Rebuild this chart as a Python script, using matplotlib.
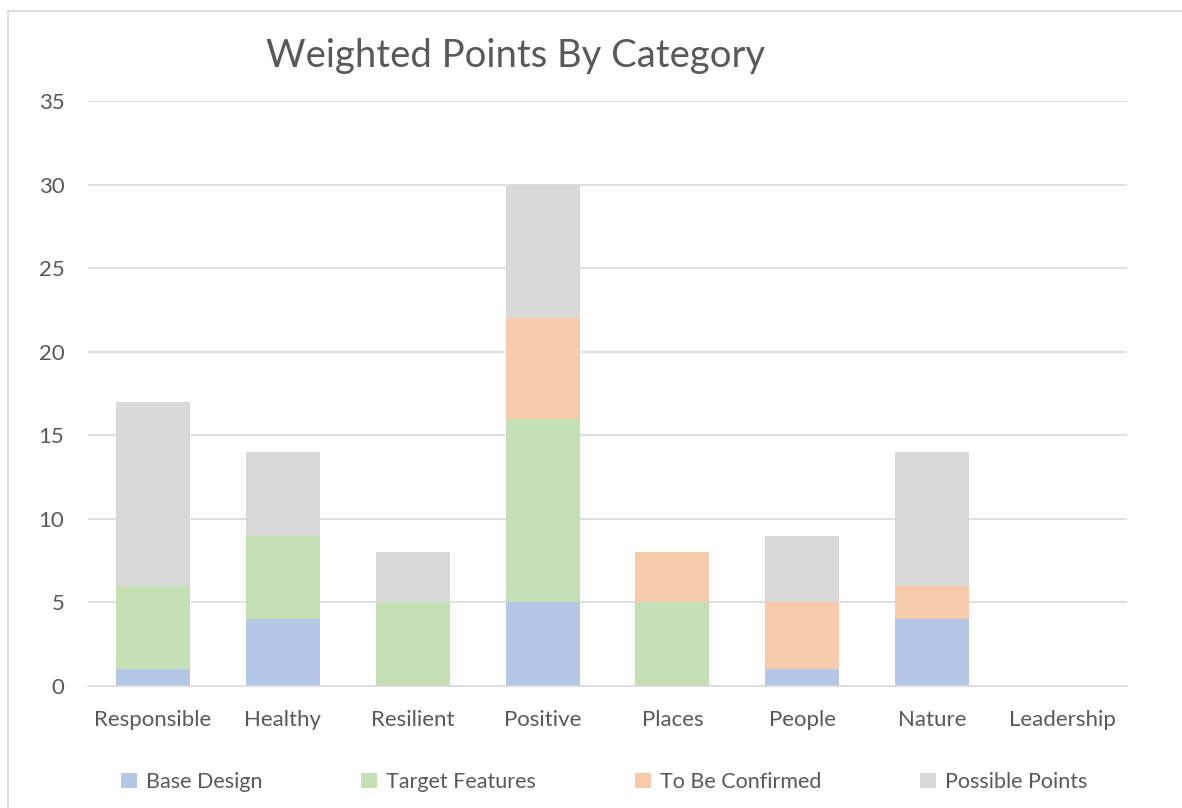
import matplotlib.pyplot as plt
from matplotlib.patches import Patch
from matplotlib.lines import Line2D

categories = ['Responsible', 'Healthy', 'Resilient', 'Positive', 'Places', 'People', 'Nature', 'Leadership']
base_design = [1, 4, 0, 5, 0, 1, 4, 0]
target_features = [5, 5, 5, 11, 5, 0, 0, 0]
to_be_confirmed = [0, 0, 0, 6, 3, 4, 2, 0]
possible_points = [11, 5, 3, 8, 0, 4, 8, 0]

series = [
    ('Base Design', base_design, '#B4C7E7'),
    ('Target Features', target_features, '#C5E0B4'),
    ('To Be Confirmed', to_be_confirmed, '#F8CBAD'),
    ('Possible Points', possible_points, '#D9D9D9'),
]

text_color = '#595959'
plt.rcParams['font.family'] = ['Lato', 'DejaVu Sans']

fig = plt.figure(figsize=(11.82, 8.08), dpi=100)
ax = fig.add_axes([88 / 1182, 1 - 686 / 808, (1127 - 88) / 1182, (686 - 101) / 808])

x = range(len(categories))
bottom = [0] * len(categories)
for name, vals, color in series:
    ax.bar(x, vals, width=0.57, bottom=bottom, color=color, label=name, zorder=2)
    bottom = [b + v for b, v in zip(bottom, vals)]

ax.set_xlim(-0.5, len(categories) - 0.5)
ax.set_ylim(0, 35)
ax.set_yticks(range(0, 36, 5))
ax.set_xticks(list(x))
ax.set_xticklabels(categories)
ax.yaxis.grid(True, color='#D9D9D9', linewidth=1.2, zorder=0)
ax.set_axisbelow(True)
for side in ['top', 'right', 'left']:
    ax.spines[side].set_visible(False)
ax.spines['bottom'].set_color('#D9D9D9')
ax.spines['bottom'].set_linewidth(1.2)
ax.tick_params(axis='both', length=0, labelsize=16, colors=text_color)
ax.tick_params(axis='x', pad=17)
ax.tick_params(axis='y', pad=17)

fig.text(516 / 1182, 1 - 56 / 808, 'Weighted Points By Category', ha='center', va='center',
         fontsize=27.5, color=text_color)

handles = [Patch(facecolor=c, edgecolor='none') for _, _, c in series]
fig.legend(handles, [n for n, _, _ in series], ncol=4, loc='center',
           bbox_to_anchor=(604 / 1182, 1 - 782 / 808), frameon=False, fontsize=15.5,
           labelcolor=text_color, handlelength=0.75, handleheight=0.75,
           handletextpad=0.4, columnspacing=4.6)

# chart border (left and top edges visible in the image)
fig.add_artist(Line2D([8 / 1182, 8 / 1182], [0, 1 - 11 / 808], transform=fig.transFigure,
                      color='#D9D9D9', linewidth=1.2))
fig.add_artist(Line2D([8 / 1182, 1], [1 - 11 / 808, 1 - 11 / 808], transform=fig.transFigure,
                      color='#D9D9D9', linewidth=1.2))

fig.savefig('out.png', dpi=100)
